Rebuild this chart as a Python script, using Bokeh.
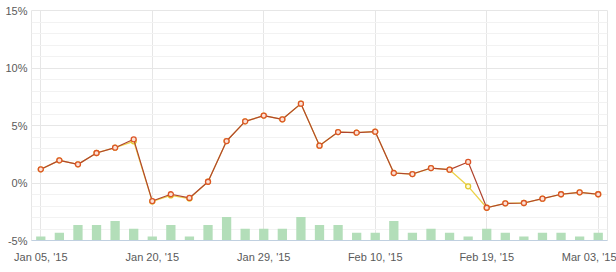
from bokeh.plotting import figure
from bokeh.models import Range1d, FixedTicker, ColumnDataSource
from bokeh.embed import file_html
from bokeh.resources import INLINE

# ---- data ----
tick_idx = [0, 6, 12, 18, 24, 30]
tick_labels = ["Jan 05, '15", "Jan 20, '15", "Jan 29, '15", "Feb 10, '15", "Feb 19, '15", "Mar 03, '15"]

red_vals = [1.19, 1.97, 1.62, 2.61, 3.07, 3.80, -1.57, -0.98, -1.30, 0.11,
            3.65, 5.36, 5.86, 5.54, 6.90, 3.25, 4.43, 4.38, 4.46, 0.87,
            0.78, 1.30, 1.16, 1.83, -2.15, -1.77, -1.74, -1.36, -0.98, -0.81, -0.98]
yellow_vals = [1.19, 1.97, 1.62, 2.61, 3.07, 3.62, -1.60, -1.08, -1.35, 0.11,
               3.65, 5.36, 5.86, 5.54, 6.90, 3.25, 4.43, 4.38, 4.46, 0.87,
               0.78, 1.30, 1.16, -0.29, -2.15, -1.77, -1.74, -1.36, -0.98, -0.81, -0.98]
bar_vals = [1, 2, 4, 4, 5, 3, 1, 4, 1, 4, 6, 3, 3, 3, 6, 4, 4, 2, 2, 5,
            2, 3, 2, 1, 3, 2, 1, 2, 2, 1, 2]

idx = list(range(len(red_vals)))
src = ColumnDataSource(dict(x=idx, red=red_vals, yel=yellow_vals, bar=bar_vals))

p = figure(width=616, height=272, output_backend="svg", toolbar_location=None,
           x_range=Range1d(-0.5, 30.5), y_range=Range1d(-5, 15))
p.min_border_left = 31
p.min_border_right = 9
p.min_border_top = 10
p.min_border_bottom = 32
p.background_fill_color = "white"
p.border_fill_color = "white"
p.outline_line_color = "#e6e6e6"

p.extra_y_ranges = {"bars": Range1d(0, 59)}

# axes
p.xaxis.ticker = FixedTicker(ticks=tick_idx)
p.xaxis.major_label_overrides = {i: l for i, l in zip(tick_idx, tick_labels)}
p.yaxis.ticker = FixedTicker(ticks=[-5, 0, 5, 10, 15], minor_ticks=list(range(-5, 16)))
p.yaxis.major_label_overrides = {-5: "-5%", 0: "0%", 5: "5%", 10: "10%", 15: "15%"}
for ax in (p.xaxis, p.yaxis):
    ax.major_tick_line_color = None
    ax.minor_tick_line_color = None
    ax.major_tick_out = 0
    ax.major_tick_in = 0
    ax.minor_tick_out = 0
    ax.minor_tick_in = 0
    ax.major_label_text_font = "Liberation Sans"
    ax.major_label_text_font_size = "11px"
    ax.major_label_text_color = "#5a5a5a"
p.yaxis.axis_line_color = None
p.yaxis.major_label_standoff = 4
p.xaxis.axis_line_color = "#c0d0e0"
p.xaxis.major_label_standoff = 10

p.xgrid.grid_line_color = "#e6e6e6"
p.ygrid.grid_line_color = "#e6e6e6"
p.ygrid.minor_grid_line_color = "#f2f2f2"

# bars
p.vbar(x="x", top="bar", bottom=0, width=0.5, source=src, y_range_name="bars",
       fill_color="#b3deb9", line_color=None)

# yellow series
p.line("x", "yel", source=src, line_color="#ecd24a", line_width=1.3)
p.scatter("x", "yel", source=src, size=5, marker="circle", line_color="#e2c92c",
          fill_color="#fffbd6", line_width=1.3)

# red series
p.line("x", "red", source=src, line_color="#b0452f", line_width=1.2)
p.scatter("x", "red", source=src, size=5, marker="circle", line_color="#dc5528",
          fill_color="#fbe3d6", line_width=1.3)

open("out.html", "w").write(file_html(p, INLINE))
